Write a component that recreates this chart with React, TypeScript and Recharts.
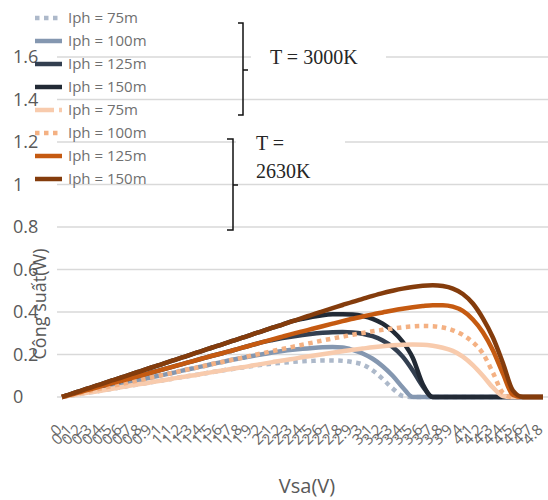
import React from "react";
import { LineChart, Line, XAxis, YAxis, CartesianGrid, Legend } from "recharts";

// ── Data ──────────────────────────────────────────────────────────────────────

const voltages = [
  0, 0.1, 0.2, 0.3, 0.4, 0.5, 0.6, 0.7, 0.8, 0.9,
  1, 1.1, 1.2, 1.3, 1.4, 1.5, 1.6, 1.7, 1.8, 1.9,
  2, 2.1, 2.2, 2.3, 2.4, 2.5, 2.6, 2.7, 2.8, 2.9,
  3, 3.1, 3.2, 3.3, 3.4, 3.5, 3.6, 3.7, 3.8, 3.9,
  4, 4.1, 4.2, 4.3, 4.4, 4.5, 4.6, 4.7, 4.8,
];

// T = 3000K
const p3000_75 = [
  0, 0.008, 0.016, 0.023, 0.031, 0.039, 0.047, 0.055, 0.062, 0.07,
  0.078, 0.086, 0.094, 0.101, 0.109, 0.117, 0.125, 0.132, 0.139, 0.146,
  0.152, 0.157, 0.161, 0.165, 0.168, 0.17, 0.172, 0.172, 0.17, 0.164,
  0.153, 0.125, 0.085, 0.04, 0.005, 0, 0, 0, 0, 0,
  0, 0, 0, 0, 0, 0, 0, 0, 0,
];
const p3000_100 = [
  0, 0.01, 0.021, 0.031, 0.041, 0.052, 0.062, 0.072, 0.082, 0.093,
  0.103, 0.113, 0.124, 0.134, 0.144, 0.155, 0.165, 0.175, 0.184, 0.193,
  0.201, 0.209, 0.216, 0.222, 0.227, 0.231, 0.234, 0.235, 0.233, 0.222,
  0.205, 0.18, 0.145, 0.1, 0.045, 0, 0, 0, 0, 0,
  0, 0, 0, 0, 0, 0, 0, 0, 0,
];
const p3000_125 = [
  0, 0.013, 0.026, 0.039, 0.052, 0.065, 0.077, 0.09, 0.103, 0.116,
  0.129, 0.142, 0.155, 0.168, 0.181, 0.194, 0.206, 0.219, 0.232, 0.245,
  0.258, 0.268, 0.277, 0.285, 0.292, 0.298, 0.302, 0.305, 0.306, 0.304,
  0.298, 0.286, 0.266, 0.235, 0.19, 0.125, 0.05, 0, 0, 0,
  0, 0, 0, 0, 0, 0, 0, 0, 0,
];
const p3000_150 = [
  0, 0.016, 0.031, 0.047, 0.062, 0.078, 0.093, 0.109, 0.124, 0.14,
  0.155, 0.171, 0.186, 0.202, 0.217, 0.233, 0.248, 0.264, 0.279, 0.295,
  0.31, 0.326, 0.341, 0.357, 0.368, 0.378, 0.385, 0.389, 0.39, 0.388,
  0.381, 0.368, 0.345, 0.31, 0.26, 0.185, 0.06, 0, 0, 0,
  0, 0, 0, 0, 0, 0, 0, 0, 0,
];

// T = 2630K
const p2630_75 = [
  0, 0.008, 0.016, 0.023, 0.031, 0.039, 0.047, 0.055, 0.062, 0.07,
  0.078, 0.086, 0.094, 0.101, 0.109, 0.117, 0.125, 0.133, 0.14, 0.148,
  0.156, 0.164, 0.172, 0.179, 0.187, 0.194, 0.201, 0.208, 0.215, 0.222,
  0.228, 0.234, 0.239, 0.243, 0.246, 0.247, 0.246, 0.241, 0.232, 0.217,
  0.19, 0.15, 0.1, 0.045, 0.005, 0, 0, 0, 0,
];
const p2630_100 = [
  0, 0.01, 0.021, 0.031, 0.041, 0.052, 0.062, 0.072, 0.082, 0.093,
  0.103, 0.113, 0.124, 0.134, 0.144, 0.155, 0.165, 0.175, 0.185, 0.196,
  0.206, 0.216, 0.226, 0.236, 0.246, 0.256, 0.266, 0.275, 0.284, 0.293,
  0.301, 0.309, 0.316, 0.322, 0.328, 0.332, 0.334, 0.333, 0.327, 0.314,
  0.292, 0.258, 0.205, 0.115, 0.02, 0, 0, 0, 0,
];
const p2630_125 = [
  0, 0.013, 0.026, 0.039, 0.052, 0.065, 0.077, 0.09, 0.103, 0.116,
  0.129, 0.142, 0.155, 0.168, 0.181, 0.194, 0.206, 0.219, 0.232, 0.245,
  0.258, 0.271, 0.284, 0.297, 0.309, 0.321, 0.333, 0.345, 0.357, 0.368,
  0.379, 0.389, 0.398, 0.407, 0.415, 0.422, 0.428, 0.432, 0.432, 0.425,
  0.405, 0.365, 0.305, 0.22, 0.11, 0.01, 0, 0, 0,
];
const p2630_150 = [
  0, 0.016, 0.031, 0.047, 0.062, 0.078, 0.093, 0.109, 0.124, 0.14,
  0.155, 0.171, 0.186, 0.202, 0.217, 0.233, 0.248, 0.264, 0.279, 0.295,
  0.31, 0.326, 0.341, 0.357, 0.372, 0.388, 0.403, 0.418, 0.433, 0.448,
  0.462, 0.476, 0.489, 0.5, 0.51, 0.518, 0.524, 0.526, 0.522, 0.51,
  0.485, 0.44, 0.37, 0.28, 0.16, 0.03, 0, 0, 0,
];

const yTicks = [0, 0.2, 0.4, 0.6, 0.8, 1, 1.2, 1.4, 1.6];

const data = voltages.map((v, i) => ({
  v: String(v),
  t3000_75: p3000_75[i],
  t3000_100: p3000_100[i],
  t3000_125: p3000_125[i],
  t3000_150: p3000_150[i],
  t2630_75: p2630_75[i],
  t2630_100: p2630_100[i],
  t2630_125: p2630_125[i],
  t2630_150: p2630_150[i],
}));

// ── Series styling ────────────────────────────────────────────────────────────

const DOT = "4.5 4.5";

const SERIES = [
  { key: "t3000_75", name: "Iph = 75m", color: "#adb9ca", dash: DOT },
  { key: "t3000_100", name: "Iph = 100m", color: "#8497b0" },
  { key: "t3000_125", name: "Iph = 125m", color: "#333f50" },
  { key: "t3000_150", name: "Iph = 150m", color: "#222a35" },
  { key: "t2630_75", name: "Iph = 75m", color: "#f8cbad", legendDash: "19 5" },
  { key: "t2630_100", name: "Iph = 100m", color: "#f4b183", dash: DOT },
  { key: "t2630_125", name: "Iph = 125m", color: "#c55a11" },
  { key: "t2630_150", name: "Iph = 150m", color: "#843c0c" },
];

const GRAY = "#595959";
const FONT = '"Open Sans", sans-serif';
const SERIF = '"Liberation Serif", "Times New Roman", serif';

// ── Ticks ─────────────────────────────────────────────────────────────────────

function XTick({ x, y, payload }: any) {
  // rotated labels, anchored at their end just under the tick
  const tx = x - 3;
  const ty = y + 22;
  return (
    <text
      x={tx}
      y={ty}
      transform={`rotate(-45, ${tx}, ${ty})`}
      textAnchor="end"
      dy="0.35em"
      fontSize={15}
      fontFamily={FONT}
      fill="#666"
    >
      {payload.value}
    </text>
  );
}

function YTick({ y, payload }: any) {
  return (
    <text x={13} y={y} dy="0.36em" textAnchor="start" fontSize={18} fontFamily={FONT} fill={GRAY}>
      {payload.value}
    </text>
  );
}

function LegendBox() {
  return (
    <div style={{ display: "flex", flexDirection: "column" }}>
      {SERIES.map((s) => (
        <div key={s.key} style={{ height: 23, display: "flex", alignItems: "center" }}>
          <svg width={27} height={8}>
            <line
              x1={0}
              y1={4}
              x2={27}
              y2={4}
              stroke={s.color}
              strokeWidth={4.5}
              strokeDasharray={s.legendDash ?? s.dash}
            />
          </svg>
          <span style={{ marginLeft: 6, fontSize: 15, color: "#707070", fontFamily: FONT, lineHeight: "23px" }}>
            {s.name}
          </span>
        </div>
      ))}
    </div>
  );
}

// ── Main ──────────────────────────────────────────────────────────────────────

export default function App() {
  return (
    <div style={{ position: "absolute", left: 0, top: 0, width: 548, height: 500, background: "#fff" }}>
      <LineChart width={548} height={500} data={data} margin={{ top: 57, right: 0, bottom: 0, left: 0 }}>
        <CartesianGrid vertical={false} stroke="#d9d9d9" strokeWidth={1.5} />
        <XAxis
          dataKey="v"
          height={103}
          interval={0}
          axisLine={false}
          tickLine={false}
          tick={<XTick />}
          padding={{ left: 5, right: 5 }}
        />
        <YAxis
          width={57}
          domain={[0, 1.6]}
          ticks={yTicks}
          interval={0}
          axisLine={false}
          tickLine={false}
          tick={<YTick />}
        />
        <Legend
          layout="vertical"
          align="center"
          verticalAlign="middle"
          content={<LegendBox />}
          wrapperStyle={{ left: 35, top: 6, width: 150, height: 184 }}
        />
        {SERIES.map((s) => (
          <Line
            key={s.key}
            type="monotone"
            dataKey={s.key}
            name={s.name}
            stroke={s.color}
            strokeWidth={4.5}
            strokeDasharray={s.dash}
            dot={false}
            activeDot={false}
            isAnimationActive={false}
          />
        ))}
      </LineChart>

      {/* axis titles + temperature brackets */}
      <svg width={548} height={500} style={{ position: "absolute", left: 0, top: 0, pointerEvents: "none" }}>
        <text x={307} y={493} textAnchor="middle" fontSize={20} fontFamily={FONT} fill={GRAY}>
          Vsa(V)
        </text>
        <text
          x={40}
          y={304}
          transform="rotate(-90, 40, 304)"
          textAnchor="middle"
          dy="0.35em"
          fontSize={18}
          fontFamily={FONT}
          fill={GRAY}
        >
          Công suất(W)
        </text>

        <path d="M238,23 L243,23 L243,115 L238,115 M243,70 L248,70" fill="none" stroke="#111" strokeWidth={1.5} />
        <rect x={251} y={46} width={135} height={24} fill="#fff" />
        <text x={270} y={64} fontSize={20} fontFamily={SERIF} fill="#262626">
          T = 3000K
        </text>

        <path d="M227,139 L233,139 L233,230 L227,230 M233,185 L238,185" fill="none" stroke="#111" strokeWidth={1.5} />
        <rect x={236} y={131} width={109} height={24} fill="#fff" />
        <text x={256} y={150} fontSize={20} fontFamily={SERIF} fill="#262626">
          T =
        </text>
        <text x={256} y={178} fontSize={20} fontFamily={SERIF} fill="#262626">
          2630K
        </text>
      </svg>
    </div>
  );
}
